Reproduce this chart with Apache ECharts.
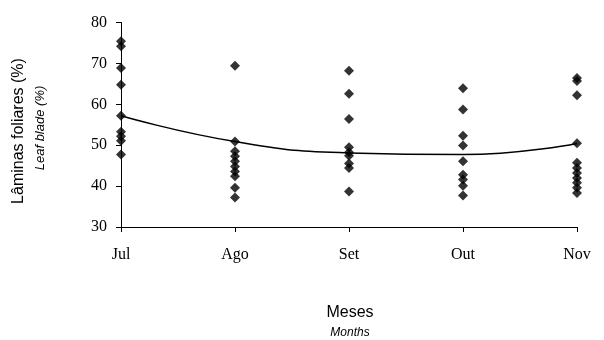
<!DOCTYPE html>
<html lang="pt">
<head>
    <meta charset="UTF-8">
    <title>Lâminas foliares</title>
    <script src="https://cdn.jsdelivr.net/npm/echarts@6/dist/echarts.min.js"></script>
    <style>
        body { margin: 0; background: #fff; }
    </style>
</head>
<body>
<div id="main" style="width: 604px;height:340px;"></div>

<script type="text/javascript">
    // meses e valores
    const months = ['Jul', 'Ago', 'Set', 'Out', 'Nov']
    const yTicks = [30, 40, 50, 60, 70, 80]

    const julVals = [75.4, 74.2, 68.9, 64.8, 57.2, 53.3, 52.2, 51.1, 47.7]
    const agoVals = [69.4, 50.9, 48.5, 47.3, 46.1, 44.8, 43.6, 42.4, 39.6, 37.2]
    const setVals = [68.2, 62.6, 56.4, 49.5, 48.3, 47.4, 45.5, 44.4, 38.7]
    const outVals = [63.9, 58.7, 52.3, 49.9, 46.1, 42.8, 41.6, 40.1, 37.7]
    const novVals = [66.4, 65.7, 62.2, 50.5, 45.7, 44.4, 43.2, 42.0, 40.8, 39.6, 38.3]

    // linha de tendência (polinomial)
    const trendVals = [57.2, 50.9, 48.1, 47.7, 50.4]

    const allVals = [julVals, agoVals, setVals, outVals, novVals]
    const points = []
    allVals.forEach(function (vals, i) {
        vals.forEach(function (v) {
            points.push([months[i], v])
        })
    })

    const myChart = echarts.init(document.getElementById('main'))

    const serif = '"Liberation Serif", "Times New Roman", serif'
    const sans = '"Liberation Sans", Arial, sans-serif'

    const option = {
        animation: false,
        backgroundColor: '#fff',
        grid: {
            left: 121,
            right: 27,
            top: 22.5,
            bottom: 113
        },
        xAxis: {
            type: 'category',
            data: months,
            boundaryGap: false,
            axisLine: { lineStyle: { color: '#000', width: 1 } },
            axisTick: { alignWithLabel: true, length: 5, lineStyle: { color: '#000' } },
            axisLabel: {
                color: '#000',
                fontFamily: serif,
                fontSize: 16,
                margin: 20
            },
            splitLine: { show: false }
        },
        yAxis: {
            type: 'value',
            min: yTicks[0],
            max: yTicks[yTicks.length - 1],
            interval: 10,
            axisLine: { show: true, lineStyle: { color: '#000', width: 1 } },
            axisTick: { show: true, length: 5, lineStyle: { color: '#000' } },
            axisLabel: {
                color: '#000',
                fontFamily: serif,
                fontSize: 16,
                margin: 14
            },
            splitLine: { show: false }
        },
        graphic: [
            {
                type: 'text',
                x: 19,
                y: 131,
                rotation: Math.PI / 2,
                style: {
                    text: 'Lâminas foliares (%)',
                    font: '16px ' + sans,
                    fill: '#000',
                    align: 'center',
                    verticalAlign: 'middle'
                }
            },
            {
                type: 'text',
                x: 40,
                y: 128,
                rotation: Math.PI / 2,
                style: {
                    text: 'Leaf blade (%)',
                    font: 'italic 13px ' + sans,
                    fill: '#000',
                    align: 'center',
                    verticalAlign: 'middle'
                }
            },
            {
                type: 'text',
                x: 350,
                y: 313,
                style: {
                    text: 'Meses',
                    font: '16px ' + sans,
                    fill: '#000',
                    align: 'center',
                    verticalAlign: 'middle'
                }
            },
            {
                type: 'text',
                x: 350,
                y: 333,
                style: {
                    text: 'Months',
                    font: 'italic 12px ' + sans,
                    fill: '#000',
                    align: 'center',
                    verticalAlign: 'middle'
                }
            }
        ],
        series: [
            {
                name: 'tendencia',
                type: 'line',
                data: trendVals,
                smooth: 0.5,
                showSymbol: false,
                lineStyle: { color: '#000', width: 1.5 },
                z: 2
            },
            {
                name: 'pontos',
                type: 'scatter',
                data: points,
                symbol: 'diamond',
                symbolSize: 10,
                itemStyle: { color: '#000' },
                z: 3
            }
        ]
    }

    myChart.setOption(option)
</script>
</body>
</html>
